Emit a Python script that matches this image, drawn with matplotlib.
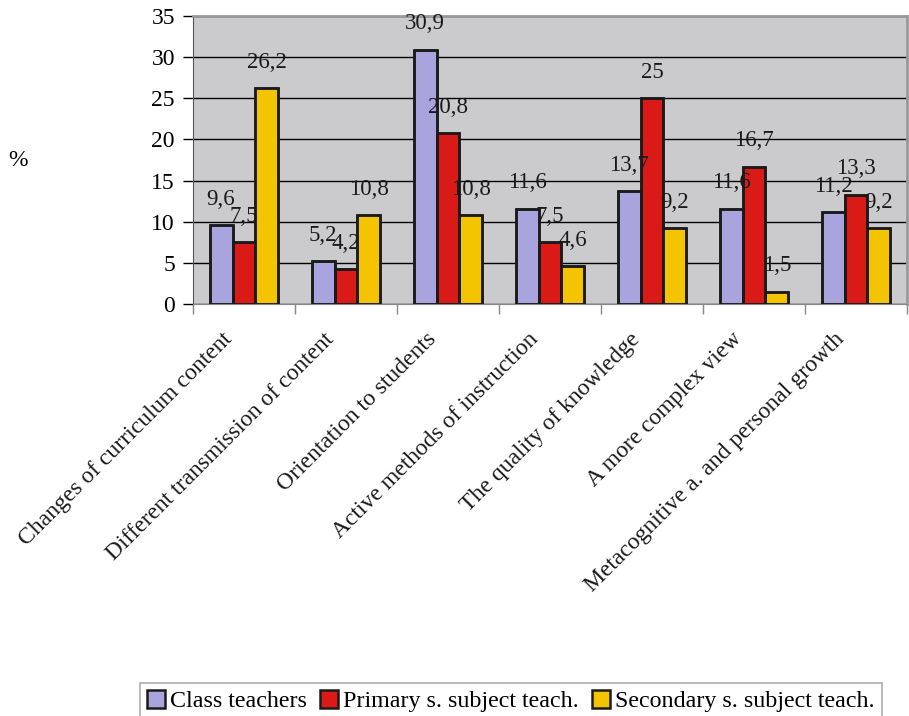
import matplotlib
matplotlib.use("Agg")
import matplotlib.pyplot as plt
import numpy as np

categories = ["Changes of curriculum content", "Different transmission of content",
              "Orientation to students", "Active methods of instruction",
              "The quality of knowledge", "A more complex view",
              "Metacognitive a. and personal growth"]
series_names = ["Class teachers", "Primary s. subject teach.", "Secondary s. subject teach."]
class_teachers = [9.6, 5.2, 30.9, 11.6, 13.7, 11.6, 11.2]
primary = [7.5, 4.2, 20.8, 7.5, 25.0, 16.7, 13.3]
secondary = [26.2, 10.8, 10.8, 4.6, 9.2, 1.5, 9.2]
labels_text = [["9,6", "5,2", "30,9", "11,6", "13,7", "11,6", "11,2"],
               ["7,5", "4,2", "20,8", "7,5", "25", "16,7", "13,3"],
               ["26,2", "10,8", "10,8", "4,6", "9,2", "1,5", "9,2"]]
yticks = [0, 5, 10, 15, 20, 25, 30, 35]
colors = ["#A9A3DE", "#D91A17", "#F5C400"]

plt.rcParams['font.family'] = ['Liberation Serif', 'DejaVu Serif']

fig = plt.figure(figsize=(9.09, 7.16), dpi=100)
ax = fig.add_axes([193/909, 1-304/716, (907-193)/909, (304-16)/716])
ax.set_facecolor("#CBCBCD")

x = np.arange(len(categories))
w = 0.225
data = [class_teachers, primary, secondary]
for k, (vals, c, name) in enumerate(zip(data, colors, series_names)):
    pos = x + (k - 1) * w
    ax.bar(pos, vals, width=w, color=c, edgecolor="#1a1a1a", linewidth=1.8,
           label=name, zorder=2)
    ax.bar(pos, vals, width=w, fill=False, edgecolor="#1a1a1a", linewidth=1.8,
           zorder=6)
    for xi, v, t in zip(pos, vals, labels_text[k]):
        ax.annotate(t, (xi, v), xytext=(0, 11), textcoords="offset points",
                    ha="center", va="bottom", fontsize=16.5, color="#1a1a1a",
                    zorder=5)

ax.set_xlim(-0.5, len(categories) - 0.5)
ax.set_ylim(0, 35)
ax.set_yticks(yticks)
ax.set_yticklabels([str(t) for t in yticks], fontsize=17)
ax.yaxis.grid(True, color="black", linewidth=1.0, zorder=1)
ax.set_axisbelow(True)
ax.tick_params(axis="y", length=7, width=1, color="black", pad=6)

ax.set_xticks(np.arange(len(categories) + 1) - 0.5, minor=True)
ax.set_xticks(x)
ax.set_xticklabels([])
ax.tick_params(axis="x", which="major", length=0)
ax.tick_params(axis="x", which="minor", length=7, width=1, color="#888888")
for xi, lab in zip(x, categories):
    ax.text(xi - 0.22, -3.0, lab, rotation=45, ha="right", va="top",
            rotation_mode="anchor", fontsize=17, color="#1a1a1a")

for s in ["top", "right"]:
    ax.spines[s].set_color("#999999")
    ax.spines[s].set_linewidth(2)
ax.spines["left"].set_color("#555555")
ax.spines["bottom"].set_color("#888888")

fig.text(18/909, 1-160/716, "%", fontsize=17, ha="center", va="center")

leg = fig.legend(loc="upper center", bbox_to_anchor=(511/909, 1-683/716), ncol=3,
                 fontsize=17.3, frameon=True, fancybox=False, edgecolor="#999999",
                 handlelength=0.75, handleheight=0.75, handletextpad=0.2,
                 columnspacing=0.55, borderpad=0.3, borderaxespad=0)
leg.get_frame().set_linewidth(1.2)

fig.savefig("out.png", dpi=100)
